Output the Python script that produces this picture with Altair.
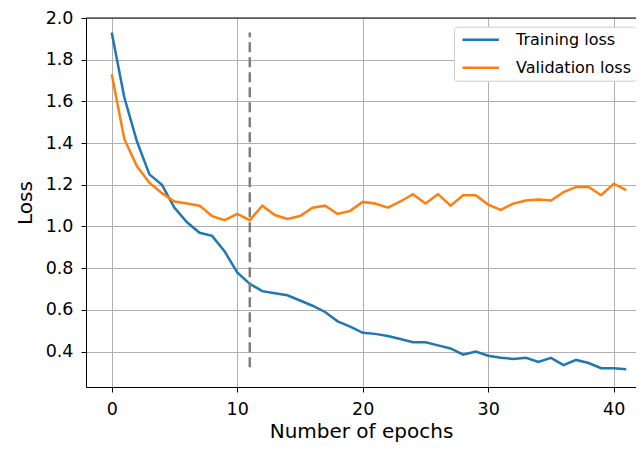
import altair as alt
import pandas as pd

# ---- data ----
epochs = list(range(42))
train_loss = [1.93, 1.62, 1.41, 1.25, 1.20, 1.09, 1.02, 0.97, 0.955, 0.88,
              0.78, 0.725, 0.69, 0.68, 0.67, 0.645, 0.62, 0.59, 0.545, 0.52,
              0.49, 0.485, 0.475, 0.46, 0.445, 0.445, 0.43, 0.415, 0.385, 0.40,
              0.38, 0.37, 0.365, 0.37, 0.35, 0.37, 0.335, 0.36, 0.345, 0.32,
              0.32, 0.315]
val_loss = [1.73, 1.42, 1.29, 1.21, 1.16, 1.12, 1.11, 1.10, 1.05, 1.03,
            1.06, 1.03, 1.10, 1.055, 1.036, 1.05, 1.09, 1.10, 1.06, 1.075,
            1.118, 1.11, 1.09, 1.12, 1.155, 1.11, 1.155, 1.10, 1.15, 1.15,
            1.105, 1.08, 1.11, 1.125, 1.13, 1.125, 1.165, 1.19, 1.19, 1.15,
            1.205, 1.175]
series_names = ["Training loss", "Validation loss"]
series_colors = ["#1f77b4", "#ff7f0e"]
x_ticks = [0, 10, 20, 30, 40]
y_ticks = [0.4, 0.6, 0.8, 1.0, 1.2, 1.4, 1.6, 1.8, 2.0]
vline_epoch = [11]
vline_low = [0.325]
vline_high = [1.93]

df = pd.DataFrame({
    "epoch": epochs + epochs,
    "loss": train_loss + val_loss,
    "series": [series_names[0]] * len(epochs) + [series_names[1]] * len(epochs),
})
vdf = pd.DataFrame({"epoch": vline_epoch, "lo": vline_low, "hi": vline_high})

W, H = 550, 369
FONT = "DejaVu Sans"

# 12.55 px per epoch, left edge at -2.05 (matplotlib 5% margin)
xscale = alt.Scale(domain=[-2.05, -2.05 + W / 12.55], nice=False, zero=False)
yscale = alt.Scale(domain=[0.2302, 2.0], nice=False, zero=False)

lines = alt.Chart(df).mark_line(strokeWidth=2.5, clip=True).encode(
    x=alt.X("epoch:Q", scale=xscale,
            axis=alt.Axis(values=x_ticks, title="Number of epochs", format="d",
                          labelPadding=8, titlePadding=4)),
    y=alt.Y("loss:Q", scale=yscale,
            axis=alt.Axis(values=y_ticks, format=".1f", title="Loss",
                          labelPadding=8, titlePadding=10)),
    color=alt.Color("series:N",
                    scale=alt.Scale(domain=series_names, range=series_colors),
                    legend=alt.Legend(
                        title=None, orient="none", legendX=368, legendY=8.7,
                        symbolType="M-1,0H7", symbolSize=83,
                        symbolStrokeWidth=2.5, labelOffset=41,
                        labelFont=FONT, labelFontSize=16, labelColor="black",
                        padding=5, rowPadding=12, fillColor="white",
                        strokeColor="#cccccc", cornerRadius=3)),
    order=alt.Order("epoch:Q"),
)

vline = alt.Chart(vdf).mark_rule(color="#7f7f7f", strokeWidth=2.5,
                                 strokeDash=[10, 5]).encode(
    x=alt.X("epoch:Q", scale=xscale),
    y=alt.Y("lo:Q", scale=yscale),
    y2="hi:Q",
)

top_spine = alt.Chart(pd.DataFrame({"k": [0]})).mark_rule(
    color="black", strokeWidth=1).encode(
    x=alt.value(0), x2=alt.value(W), y=alt.value(0))

chart = alt.layer(lines, vline, top_spine).properties(
    width=W, height=H,
    autosize=alt.AutoSizeParams(type="none"),
    padding={"left": 78, "top": 10, "right": 0, "bottom": 57},
).configure_view(stroke=None).configure_axis(
    labelFont=FONT, labelFontSize=17.5, labelColor="black",
    titleFont=FONT, titleFontSize=20, titleFontWeight="normal", titleColor="black",
    tickSize=5, tickColor="black", tickWidth=1,
    domainColor="black", domainWidth=1,
    grid=True, gridColor="#b0b0b0", gridWidth=1,
)

chart.save("out.html", embed_options={"renderer": "svg", "actions": False})
